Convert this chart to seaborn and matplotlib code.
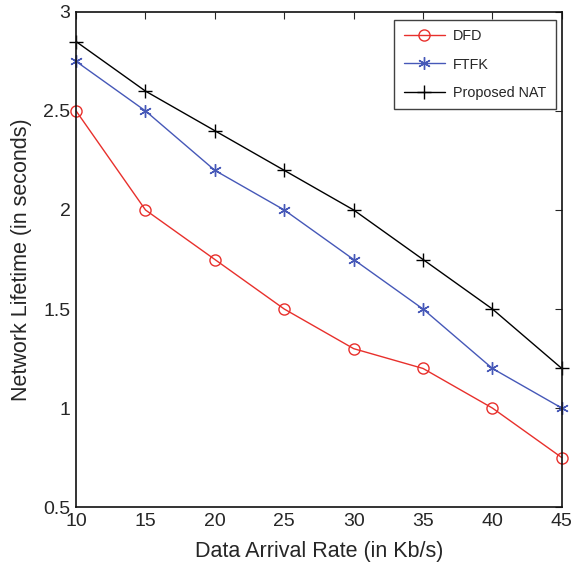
import matplotlib
matplotlib.use("Agg")
import matplotlib.pyplot as plt
import seaborn as sns
import pandas as pd

rate = [10, 15, 20, 25, 30, 35, 40, 45]
dfd = [2.5, 2.0, 1.75, 1.5, 1.3, 1.2, 1.0, 0.75]
ftfk = [2.75, 2.5, 2.2, 2.0, 1.75, 1.5, 1.2, 1.0]
nat = [2.85, 2.6, 2.4, 2.2, 2.0, 1.75, 1.5, 1.2]
series_names = ["DFD", "FTFK", "Proposed NAT"]
xticks = [10, 15, 20, 25, 30, 35, 40, 45]
yticks = [0.5, 1, 1.5, 2, 2.5, 3]
ytick_labels = ["0.5", "1", "1.5", "2", "2.5", "3"]

sns.set_style("white")
plt.rcParams["font.family"] = ["Liberation Sans", "DejaVu Sans"]

fig = plt.figure(figsize=(5.81, 5.66), dpi=100)
ax = fig.add_axes([0.131, 0.104, 0.836, 0.875])

asterisk = (6, 2, 0)
styles = [
    dict(color="#e8302c", marker="o", ms=8, mfc="none", mec="#e8302c", mew=1.0),
    dict(color="#4658b8", marker=asterisk, ms=9, mfc="#4658b8", mec="#4658b8", mew=1.0),
    dict(color="#000000", marker="+", ms=10, mfc="#000000", mec="#000000", mew=1.0),
]
for name, vals, st in zip(series_names, [dfd, ftfk, nat], styles):
    df = pd.DataFrame({"x": rate, "y": vals})
    sns.lineplot(data=df, x="x", y="y", ax=ax, label=name, lw=1.0, clip_on=False, **st)

ax.set_xlim(10, 45)
ax.set_ylim(0.5, 3)
ax.set_xticks(xticks)
ax.set_yticks(yticks)
ax.set_yticklabels(ytick_labels)
ax.tick_params(direction="in", length=5, width=0.8, labelsize=14, top=True, right=True,
               pad=4)
for s in ax.spines.values():
    s.set_linewidth(1.2)
    s.set_color("#111111")
ax.set_xlabel("Data Arrival Rate (in Kb/s)", fontsize=15.5, labelpad=8)
ax.set_ylabel("Network Lifetime (in seconds)", fontsize=15.5, labelpad=8)

leg = ax.legend(loc="upper right", fontsize=10.4, frameon=True, fancybox=False,
                edgecolor="#111111", borderpad=0.65, labelspacing=0.98, handlelength=2.9,
                handletextpad=0.55, borderaxespad=0,
                bbox_to_anchor=(556 / 581, 1 - 20 / 566), bbox_transform=fig.transFigure)
leg.get_frame().set_linewidth(1.0)

fig.savefig("out.png", dpi=100)
